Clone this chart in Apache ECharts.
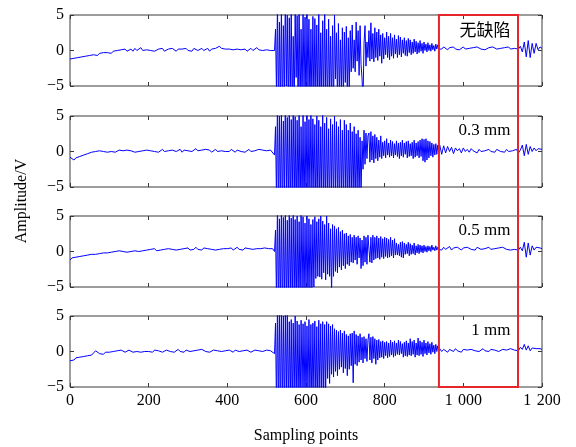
<!DOCTYPE html>
<html>
<head>
<meta charset="utf-8">
<script src="https://cdn.jsdelivr.net/npm/echarts@6/dist/echarts.min.js"></script>
<style>
  html, body { margin: 0; padding: 0; background: #fff; }
  #chart { width: 576px; height: 447px; }
</style>
</head>
<body>
<div id="chart"></div>
<script>
// Ultrasonic echo traces over sampling points 0 ... 1200, stored in three segments:
//   lead  : 0 ... 515,     every 5 points  (104 values)
//   burst : 520 ... 937.5, every 2.5 points (168 values) - echo, overdrives the ±5 V range
//   tail  : 940 ... 1200,  every 5 points  (53 values)
const SEGMENTS = [
  { start: 0, step: 5, count: 104 },
  { start: 520, step: 2.5, count: 168 },
  { start: 940, step: 5, count: 53 }
];

const panelLabels = ['无缺陷', '0.3 mm', '0.5 mm', '1 mm'];
const xTicks = [0, 200, 400, 600, 800, 1000, 1200];
const yTicks = [-5, 0, 5];
const windowRange = [938, 1139];   // highlighted sampling window

// ---- no defect ----
const noDefectLead = [
  -1.2,-1.0,-1.1,-0.9,-1.0,-0.8,-0.9,-0.7,-0.8,-0.6,-0.7,-0.5,-0.6,-0.5,-0.7,-0.4,-0.5,-0.3,-0.5,-0.3,
  -0.2,-0.4,-0.1,-0.3,0.0,-0.2,0.1,-0.1,0.2,-0.1,0.1,0.2,-0.1,0.3,0.0,0.2,0.4,0.0,0.2,0.1,
  0.3,0.0,0.2,-0.1,0.1,0.2,0.0,0.3,-0.1,0.1,0.2,0.0,0.3,0.1,-0.1,0.2,0.0,0.2,0.1,0.3,
  0.0,0.2,-0.1,0.3,0.1,0.0,0.2,0.3,0.0,0.1,0.3,-0.1,0.2,0.1,0.3,0.4,0.6,0.3,0.5,0.2,
  0.1,0.2,0.0,0.1,-0.1,0.2,0.0,0.1,0.0,0.2,-0.1,0.1,0.3,0.0,0.2,0.4,0.1,0.3,0.0,0.2,
  0.1,0.2,0.0,0.1
];
const noDefectBurst = [
  0.0,3.0,-6.0,7.0,-9.0,4.0,-8.0,6.5,-10.0,3.5,
  -7.0,8.0,-5.0,5.0,-9.0,4.6,-6.5,6.0,-9.5,2.0,
  -8.0,5.5,-3.8,4.9,-9.0,7.0,-8.5,3.0,-7.5,5.5,
  -6.0,4.7,-10.0,6.0,-6.0,4.4,-9.0,3.0,-7.0,4.8,
  -8.0,4.5,-6.5,3.6,-7.5,5.5,-9.0,2.5,-6.0,4.2,
  -8.0,6.0,-5.5,3.0,-9.0,4.4,-6.0,2.0,-7.5,3.5,
  -8.5,5.0,-4.0,2.5,-7.0,3.8,-6.5,1.5,-5.5,3.2,
  -7.0,2.6,-4.5,3.4,-6.0,1.8,-5.5,2.8,-3.0,3.6,
  -2.5,1.5,-3.0,4.0,-1.5,2.8,-3.5,3.5,-2.0,-4.0,
  -7.0,1.0,3.5,-2.2,1.2,-1.0,
  2.8,-1.5,3.9,-1.2,2.4,-1.6,3.2,-1.0,2.6,-1.4,
  3.0,-0.8,2.2,-1.8,2.4,-1.2,1.8,-0.6,2.6,-1.0,
  2.0,-1.3,2.4,-0.8,1.8,-1.1,2.2,-0.5,1.6,-1.0,
  2.1,-0.6,1.9,-0.9,1.5,-0.4,1.8,-0.7,1.4,-0.8,
  1.7,-0.3,1.5,-0.6,1.2,-0.4,1.6,-0.2,1.3,-0.5,
  1.1,-0.3,1.4,-0.1,1.0,-0.4,1.2,0.0,0.9,-0.2,
  1.1,0.0,0.8,-0.1,1.0,0.1,0.7,-0.1,0.9,0.2,
  0.8,0.2
];
const noDefectTail = [
  0.4,0.2,0.5,0.3,0.1,0.4,0.3,0.5,0.2,0.4,0.1,0.3,0.5,0.2,0.4,0.3,0.1,0.4,0.2,0.5,
  0.3,0.2,0.4,0.1,0.3,0.4,0.2,0.5,0.3,0.2,0.4,0.3,0.1,0.4,0.3,0.5,0.2,0.4,
  0.3,0.5,0.2,0.6,-0.2,1.2,-0.9,1.4,-1.0,1.0,-0.4,1.0,0.1,0.5,0.3
];

// ---- 0.3 mm ----
const crack03Lead = [
  -0.8,-1.0,-1.2,-0.9,-1.1,-0.7,-0.9,-0.5,-0.6,-0.3,-0.4,-0.1,-0.3,0.0,-0.2,0.1,-0.1,0.0,0.2,-0.1,
  0.1,0.0,0.2,-0.1,0.1,0.2,0.0,0.1,-0.1,0.2,0.0,0.1,0.3,-0.1,0.1,0.0,0.2,0.1,-0.1,0.2,
  0.0,0.1,0.3,0.0,0.2,-0.1,0.1,0.3,0.0,0.2,0.1,-0.1,0.2,0.4,0.0,0.1,0.3,-0.1,0.2,0.0,
  0.1,0.3,0.0,0.2,0.4,0.1,-0.1,0.2,0.0,0.3,0.1,0.2,-0.1,0.1,0.3,0.0,0.2,0.1,0.3,0.0,
  0.2,0.0,0.3,0.1,-0.1,0.2,0.1,0.0,0.2,-0.1,0.1,0.3,0.0,0.2,0.1,0.0,0.3,0.1,0.2,0.4,
  0.1,0.3,0.2,0.0
];
const crack03Burst = [
  -0.5,3.5,-7.0,7.5,-9.0,5.0,-8.0,6.0,-10.0,4.3,
  -7.0,8.0,-6.0,4.8,-8.5,5.5,-9.0,4.5,-7.5,6.5,
  -8.0,4.9,-10.0,4.4,-7.5,6.0,-9.0,3.5,-8.0,5.2,
  -9.5,4.2,-7.0,5.5,-8.0,4.5,-6.5,6.0,-7.5,4.6,
  -6.0,3.8,-9.0,5.0,-7.0,4.4,-8.5,3.5,-6.0,5.5,
  -8.0,4.0,-7.5,4.8,-6.5,3.2,-9.0,4.6,-5.5,3.8,
  -8.0,5.0,-6.0,4.2,-7.0,3.5,-8.5,4.5,-6.0,3.0,
  -7.5,4.4,-5.5,3.8,-8.0,3.0,-6.5,4.0,-7.0,2.8,
  -6.0,3.5,-8.0,2.5,-5.5,3.0,-7.0,2.0,-6.0,1.5,
  -2.5,3.0,-1.8,2.6,-1.0,2.2,
  2.6,-1.5,2.8,-1.2,2.2,-1.6,2.4,-1.0,2.0,-1.3,
  1.6,-0.8,2.2,-1.0,1.3,-0.6,1.5,-0.9,1.8,-0.5,
  1.2,-0.8,1.6,-0.6,1.4,-0.9,1.1,-0.5,1.5,-0.7,
  1.2,-1.0,1.3,-0.6,1.6,-0.8,1.2,-0.4,1.4,-0.9,
  1.5,-0.7,1.1,-0.6,1.3,-1.0,1.6,-0.8,1.2,-0.6,
  1.4,-0.9,1.6,-0.7,1.8,-1.3,1.7,-1.5,1.8,-1.2,
  1.5,-0.9,1.4,-0.6,1.2,-0.8,1.0,-0.5,1.1,-0.4,
  0.9,-0.3
];
const crack03Tail = [
  0.9,-0.4,0.8,-0.2,0.7,0.0,0.6,-0.3,0.5,0.1,0.4,-0.2,0.5,0.0,0.3,-0.1,0.4,0.1,0.2,-0.2,
  0.3,0.0,0.2,0.1,-0.1,0.3,0.0,0.2,-0.1,0.3,0.1,0.0,0.2,-0.1,0.3,0.0,0.2,0.1,
  0.0,0.3,-0.2,0.2,0.9,-0.6,1.0,-0.4,0.7,0.0,0.5,0.1,0.4,0.2,0.3
];

// ---- 0.5 mm ----
const crack05Lead = [
  -1.2,-0.9,-1.1,-0.8,-1.0,-0.7,-0.9,-0.6,-0.8,-0.5,-0.7,-0.4,-0.6,-0.4,-0.5,-0.3,-0.5,-0.2,-0.4,-0.2,
  -0.3,-0.1,-0.2,0.0,-0.2,0.1,-0.1,0.0,0.2,-0.1,0.1,0.0,0.2,0.1,0.3,0.0,0.2,0.1,0.3,0.2,
  0.1,0.3,0.2,0.4,0.1,0.3,0.2,0.4,0.3,0.1,0.4,0.2,0.3,0.5,0.2,0.4,0.3,0.2,0.4,0.3,
  0.5,0.2,0.4,0.3,0.6,0.3,0.4,0.2,0.5,0.3,0.4,0.6,0.3,0.5,0.2,0.4,0.3,0.5,0.4,0.2,
  0.4,0.3,0.5,0.2,0.4,0.6,0.3,0.4,0.2,0.5,0.3,0.4,0.6,0.3,0.5,0.4,0.2,0.4,0.3,0.5,
  0.3,0.4,0.2,0.4
];
const crack05Burst = [
  0.0,3.0,-7.0,7.0,-9.0,4.6,-8.0,6.5,-10.0,4.8,
  -7.5,5.5,-9.0,4.4,-8.0,6.0,-7.0,4.7,-8.5,5.5,
  -6.5,4.5,-9.0,5.0,-7.0,4.2,-8.0,5.5,-6.0,4.9,
  -7.5,4.0,-6.0,5.0,-8.0,4.6,-5.5,3.8,-6.5,4.5,
  -5.0,4.9,-3.8,4.2,-3.5,4.6,-3.6,5.0,-3.9,4.3,
  -3.0,3.8,-4.0,5.0,-3.2,4.0,-3.5,3.2,-6.0,3.8,
  -3.5,3.6,-2.8,3.2,-3.0,3.4,-2.2,2.8,-2.6,3.0,
  -2.0,2.5,-2.4,2.6,-1.8,2.2,-2.0,2.4,-1.5,2.0,
  -1.6,2.3,-1.2,2.0,-1.8,2.2,-0.9,1.9,-2.4,1.6,
  -2.0,2.2,-1.5,2.0,-1.8,2.3,
  2.4,-1.5,2.0,-1.6,2.3,-1.2,2.0,-1.0,2.2,-0.9,
  1.9,-1.1,2.1,-0.8,1.8,-1.0,2.0,-0.7,1.9,-0.9,
  1.7,-0.8,2.0,-0.6,1.6,-0.9,1.8,-0.5,1.2,-0.5,
  1.0,-0.6,1.3,-0.8,1.4,-0.9,1.2,-0.4,1.0,-0.3,
  1.3,-0.6,1.1,-0.4,0.9,-0.3,1.2,-0.5,0.8,-0.2,
  1.0,-0.3,0.9,-0.1,0.8,-0.2,0.9,0.0,0.7,-0.1,
  0.8,0.1,0.7,0.0,0.9,0.2,0.6,0.1,0.8,0.2,
  0.6,0.3
];
const crack05Tail = [
  0.5,0.2,0.6,0.3,0.4,0.7,0.2,0.5,0.3,0.6,0.4,0.2,0.5,0.3,0.6,0.4,0.3,0.5,0.2,0.6,
  0.4,0.3,0.5,0.4,0.2,0.6,0.3,0.5,0.4,0.2,0.5,0.3,0.6,0.4,0.3,0.5,0.2,0.4,
  0.3,0.5,0.2,0.6,0.1,1.3,-0.8,1.2,-0.5,0.8,0.2,0.6,0.4,0.5,0.4
];

// ---- 1 mm ----
const crack10Lead = [
  -1.3,-1.1,-1.2,-0.9,-1.0,-0.8,-0.9,-0.7,-0.8,-0.6,-0.7,-0.5,-0.2,0.1,-0.1,-0.3,-0.2,-0.4,-0.1,-0.2,
  -0.1,-0.3,0.0,-0.2,0.1,-0.1,0.2,0.0,-0.1,0.1,0.2,0.0,-0.1,0.1,0.0,0.2,-0.1,0.1,0.0,0.2,
  0.0,0.1,-0.1,0.2,0.0,0.1,0.2,-0.1,0.0,0.2,0.1,0.0,0.2,-0.1,0.1,0.3,0.0,0.1,-0.1,0.2,
  0.1,0.0,0.2,0.1,-0.1,0.2,0.0,0.3,0.1,0.0,0.2,-0.1,0.1,0.2,0.0,0.1,0.3,0.0,0.2,0.1,
  0.0,0.2,0.1,-0.1,0.2,0.3,0.0,0.2,0.1,0.0,0.2,0.1,-0.1,0.1,0.2,0.0,0.1,0.2,0.0,0.1,
  0.2,0.0,0.1,0.2
];
const crack10Burst = [
  -0.3,4.0,-8.0,7.0,-9.0,6.0,-10.0,6.5,-8.0,5.0,
  -9.5,5.5,-7.0,6.0,-8.5,4.2,-7.5,4.5,-9.0,4.0,
  -6.5,5.0,-8.0,4.3,-7.0,3.8,-9.0,4.4,-6.0,3.9,
  -7.5,4.2,-8.0,3.6,-6.5,4.5,-7.0,3.8,-9.0,4.0,
  -6.0,4.3,-7.5,3.5,-8.0,4.4,-5.5,3.9,-7.0,4.2,
  -6.0,3.8,-5.5,4.2,-3.8,3.9,-4.5,3.6,-3.2,3.8,
  -3.6,3.2,-2.8,3.0,-3.4,2.8,-2.5,3.0,-2.2,2.6,
  -3.0,2.9,-2.4,2.4,-3.4,2.2,-2.5,2.5,-2.0,2.6,
  -4.4,2.9,-1.8,2.4,-2.0,2.2,-1.5,2.5,-1.2,2.0,
  -1.6,2.1,-1.0,1.8,-1.4,1.6,
  2.5,-1.2,2.0,-1.6,2.1,-1.0,1.8,-1.8,1.6,-1.2,
  1.7,-0.9,1.4,-0.8,1.5,-1.0,1.3,-0.6,1.4,-0.9,
  1.2,-0.7,1.6,-0.5,1.3,-0.8,1.5,-0.6,1.2,-0.4,
  1.6,-0.5,1.4,-0.3,1.1,-0.8,1.3,-0.6,1.5,-0.7,
  1.2,-0.5,1.8,-0.6,1.4,-0.4,1.6,-0.8,1.2,-0.5,
  1.9,-0.6,1.5,-0.4,1.3,-0.7,1.6,-0.3,1.2,-0.5,
  1.4,-0.2,1.1,-0.4,1.3,-0.1,0.9,-0.3,1.0,0.0,
  0.8,0.1
];
const crack10Tail = [
  0.4,0.0,0.3,0.1,-0.1,0.3,0.2,0.0,0.4,0.1,0.2,-0.1,0.3,0.1,0.2,0.0,0.3,0.2,0.1,0.3,
  0.0,0.2,0.4,0.1,0.2,0.0,0.3,0.1,0.2,0.4,0.0,0.2,0.3,0.1,0.2,0.0,0.4,0.3,
  0.2,0.4,0.1,0.6,0.3,1.0,0.2,0.8,0.1,0.5,0.3,0.4,0.2,0.4,0.3
];

const traces = [
  [noDefectLead, noDefectBurst, noDefectTail],
  [crack03Lead, crack03Burst, crack03Tail],
  [crack05Lead, crack05Burst, crack05Tail],
  [crack10Lead, crack10Burst, crack10Tail]
];

// pair every stored value with its sampling point
function toPoints(parts, k) {
  const pts = [];
  parts.forEach((arr, s) => {
    const seg = SEGMENTS[s];
    if (arr.length !== seg.count) throw new Error('trace ' + k + ' segment ' + s + ' has ' + arr.length);
    arr.forEach((v, i) => pts.push([seg.start + i * seg.step, v]));
  });
  return pts;
}

const FONT = '"Liberation Serif", "Times New Roman", serif';
const AXIS_COLOR = '#3a3a3a';
const gridTops = [15, 116, 216, 316];
const GRID_H = 71;

const grids = [], xAxes = [], yAxes = [], series = [];
const minus = v => (v < 0 ? '\u2212' + Math.abs(v) : String(v));
const groupThousands = v => (v >= 1000 ? String(v).replace(/(\d)(\d{3})$/, '$1\u2004$2') : String(v));

traces.forEach((parts, k) => {
  grids.push({
    left: 70, right: 34, top: gridTops[k], height: GRID_H,
    show: true, borderColor: AXIS_COLOR, borderWidth: 1, backgroundColor: '#fff'
  });
  const tick = { show: true, inside: true, length: 4, lineStyle: { color: AXIS_COLOR, width: 1 } };
  const noLine = { show: false, onZero: false };
  const last = k === traces.length - 1;
  xAxes.push({
    gridIndex: k, type: 'value', position: 'bottom', min: 0, max: 1200, interval: 200,
    axisLine: noLine, axisTick: tick, splitLine: { show: false },
    axisLabel: { show: last, color: '#000', fontFamily: FONT, fontSize: 16, margin: 6, formatter: groupThousands },
    name: last ? 'Sampling points' : '', nameLocation: 'middle', nameGap: 41,
    nameTextStyle: { color: '#000', fontFamily: FONT, fontSize: 16 }
  });
  xAxes.push({
    gridIndex: k, type: 'value', position: 'top', min: 0, max: 1200, interval: 200,
    axisLine: noLine, axisTick: tick, splitLine: { show: false }, axisLabel: { show: false }
  });
  yAxes.push({
    gridIndex: k, type: 'value', position: 'left', min: -5, max: 5, interval: 5,
    axisLine: noLine, axisTick: tick, splitLine: { show: false },
    axisLabel: { color: '#000', fontFamily: FONT, fontSize: 16, margin: 6, formatter: minus }
  });
  yAxes.push({
    gridIndex: k, type: 'value', position: 'right', min: -5, max: 5, interval: 5,
    axisLine: noLine, axisTick: tick, splitLine: { show: false }, axisLabel: { show: false }
  });
  series.push({
    type: 'line', xAxisIndex: 2 * k, yAxisIndex: 2 * k,
    data: toPoints(parts, k),
    showSymbol: false, symbol: 'none', clip: true, sampling: null,
    lineStyle: { color: '#0000ff', width: 1 }, z: 3
  });
});

const chart = echarts.init(document.getElementById('chart'), null, { renderer: 'canvas' });
chart.setOption({
  animation: false,
  backgroundColor: '#fff',
  grid: grids, xAxis: xAxes, yAxis: yAxes, series: series
});

// Overlay: highlighted window, panel captions and the shared y title
const px = (axis, v) => chart.convertToPixel({ xAxisIndex: axis }, v);
const py = (axis, v) => chart.convertToPixel({ yAxisIndex: axis }, v);
const boxLeft = px(0, windowRange[0]);
const boxRight = px(0, windowRange[1]);
const boxTop = py(0, 5);
const boxBottom = py(6, -5);

const graphics = [{
  type: 'rect', z: 10,
  shape: { x: boxLeft, y: boxTop, width: boxRight - boxLeft, height: boxBottom - boxTop },
  style: { fill: null, stroke: '#e5262b', lineWidth: 2 }
}];
panelLabels.forEach((label, k) => {
  graphics.push({
    type: 'text', z: 11,
    x: px(2 * k, 1120), y: py(2 * k, 2.9),
    style: {
      text: label, align: 'right', verticalAlign: 'middle', fill: '#000',
      font: '17px ' + (k === 0 ? '"Noto Sans CJK SC", sans-serif' : FONT)
    }
  });
});
graphics.push({
  type: 'text', z: 11, x: 22, y: (boxTop + boxBottom) / 2, rotation: Math.PI / 2,
  style: { text: 'Amplitude/V', align: 'center', verticalAlign: 'middle', fill: '#000', font: '16px ' + FONT }
});
chart.setOption({ graphic: graphics });
</script>
</body>
</html>
